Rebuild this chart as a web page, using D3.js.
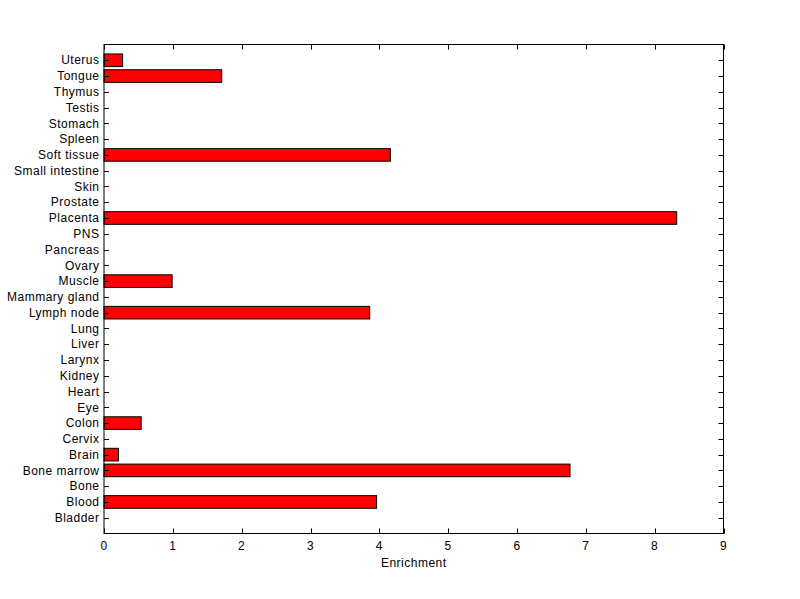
<!DOCTYPE html>
<html><head><meta charset="utf-8">
<script src="https://cdn.jsdelivr.net/npm/d3@7"></script>
<style>body{margin:0;background:#fff}svg{display:block}text{font-family:"Liberation Sans",Arial,sans-serif;font-size:12px;fill:#000;letter-spacing:0.5px}</style>
</head><body><div id="c"></div>
<script>
const categories = ["Bladder","Blood","Bone","Bone marrow","Brain","Cervix","Colon","Eye","Heart","Kidney","Larynx","Liver","Lung","Lymph node","Mammary gland","Muscle","Ovary","Pancreas","PNS","Placenta","Prostate","Skin","Small intestine","Soft tissue","Spleen","Stomach","Testis","Thymus","Tongue","Uterus"];
const values = [0,3.96,0,6.77,0.21,0,0.54,0,0,0,0,0,0,3.86,0,0.99,0,0,0,8.32,0,0,0,4.16,0,0,0,0,1.71,0.27];
const xTicks = [0,1,2,3,4,5,6,7,8,9];
const xLabel = "Enrichment";

const W=800,H=599;
const L=104,R=723.5,T=44.5,B=533.5;
const svg=d3.select("#c").append("svg").attr("width",W).attr("height",H);
const x=d3.scaleLinear().domain([0,9]).range([L,R]);
const y=d3.scaleLinear().domain([0,categories.length+1]).range([B,T]);
const bh=(y(0)-y(0.8));

svg.append("g").selectAll("rect").data(values.map((v,i)=>({v,i})).filter(d=>d.v>0)).join("rect")
  .attr("x",x(0)).attr("y",d=>y(d.i+1)-bh/2).attr("width",d=>x(d.v)-x(0)).attr("height",bh)
  .attr("fill","#ff0000").attr("stroke","#000").attr("stroke-width",1);

const tl=5;
const ax=svg.append("g").attr("stroke","#000").attr("stroke-width",1).attr("fill","none");
ax.append("rect").attr("x",L).attr("y",T).attr("width",R-L).attr("height",B-T);
xTicks.forEach(t=>{
  const px=Math.round(x(t))+0.5;
  ax.append("line").attr("x1",px).attr("x2",px).attr("y1",B).attr("y2",B-tl);
  ax.append("line").attr("x1",px).attr("x2",px).attr("y1",T).attr("y2",T+tl);
});
categories.forEach((c,i)=>{
  const py=Math.round(y(i+1))+0.5;
  ax.append("line").attr("x1",L).attr("x2",L+tl).attr("y1",py).attr("y2",py);
  ax.append("line").attr("x1",R).attr("x2",R-tl).attr("y1",py).attr("y2",py);
});
svg.append("g").selectAll("text").data(xTicks).join("text")
  .attr("x",d=>x(d)).attr("y",B+16).attr("text-anchor","middle").text(d=>d);
svg.append("g").selectAll("text").data(categories).join("text")
  .attr("x",L-4.5).attr("y",(d,i)=>y(i+1)).attr("dy","0.35em").attr("text-anchor","end").text(d=>d);
svg.append("text").attr("x",(L+R)/2).attr("y",B+33).attr("text-anchor","middle").text(xLabel);
</script></body></html>
